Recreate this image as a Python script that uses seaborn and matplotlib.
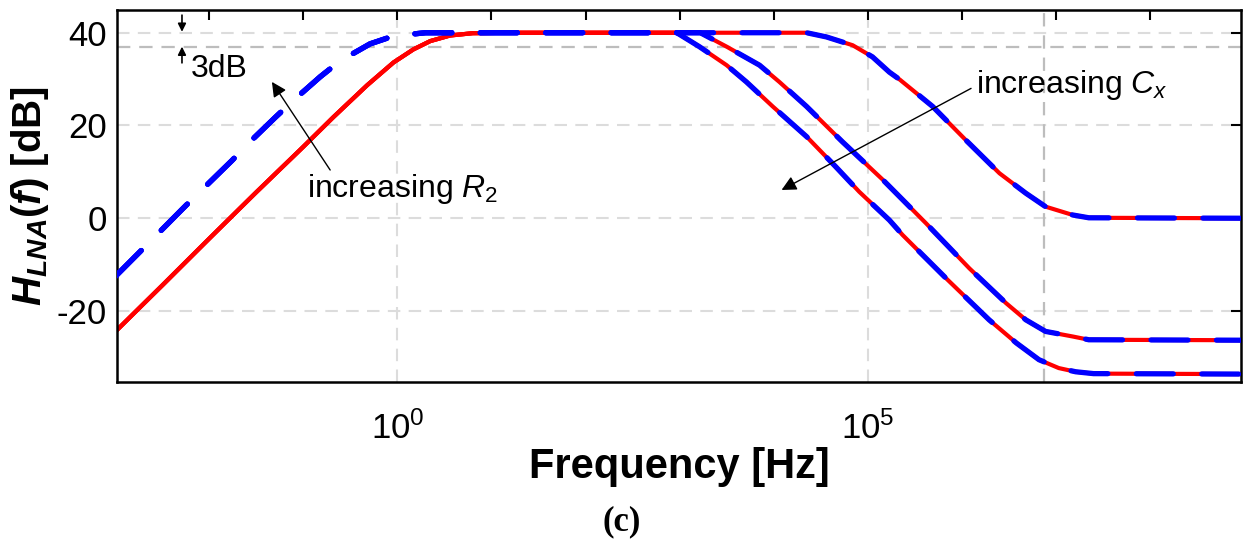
import numpy as np
import pandas as pd
import matplotlib
matplotlib.use("Agg")
import matplotlib.pyplot as plt
import seaborn as sns
from matplotlib.ticker import FixedLocator, FuncFormatter, NullLocator

# ---------------- data ----------------
# low-frequency (high-pass) part, two R2 values; log10(f) and dB
r2_small_logf = [-3.0, -2.5, -2.0, -1.5, -1.0, -0.68, -0.32, -0.04, 0.17, 0.35, 0.56, 0.8, 1.2]
r2_small_db = [-24.5, -14.5, -4.4, 5.6, 15.4, 21.8, 28.7, 33.6, 36.4, 38.2, 39.4, 39.9, 40.0]
r2_large_logf = [-3.0, -2.7, -2.24, -1.76, -1.56, -1.30, -1.10, -0.82, -0.61, -0.29, -0.04, 0.3]
r2_large_db = [-12.6, -6.5, 2.9, 12.4, 16.6, 21.7, 25.5, 30.5, 33.9, 37.6, 39.3, 40.0]

# high-frequency (low-pass with floor) part, three Cx values
cx1_logf = [2.97, 3.21, 3.50, 3.71, 3.99, 4.35, 4.66, 4.91, 5.23, 5.37, 5.83, 6.29, 6.58, 6.82, 7.03, 7.21, 7.4, 9.0]
cx1_db = [40.0, 37.0, 33.0, 29.4, 24.1, 17.6, 11.1, 5.7, -0.4, -3.6, -12.9, -21.9, -26.9, -30.5, -32.3, -33.1, -33.5, -33.6]
cx2_logf = [3.22, 3.50, 3.85, 4.06, 4.35, 4.73, 5.16, 5.62, 6.08, 6.47, 6.68, 6.89, 7.18, 7.35, 9.0]
cx2_db = [40.0, 37.0, 33.0, 29.4, 24.1, 16.5, 8.3, -1.1, -10.8, -18.3, -21.9, -24.4, -25.5, -26.2, -26.3]
cx3_logf = [4.35, 4.56, 4.84, 5.05, 5.23, 5.34, 5.69, 6.04, 6.40, 6.68, 6.89, 7.18, 7.35, 9.0]
cx3_db = [40.0, 39.1, 37.3, 34.8, 31.5, 29.9, 24.1, 16.9, 9.7, 5.4, 2.5, 0.7, 0.1, 0.0]

y_ticks = [-20, 0, 20, 40]
x_tick_decades = list(range(-3, 10))
x_label_decades = [0, 5]
grid_x_decades = [0, 5]
ref_db = 37            # -3 dB level
ref_x_decade = 6.87    # vertical reference line

# ---------------- build long-form table ----------------
rows = []
lows = {"small": (r2_small_logf, r2_small_db), "large": (r2_large_logf, r2_large_db)}
highs = {"cx1": (cx1_logf, cx1_db), "cx2": (cx2_logf, cx2_db), "cx3": (cx3_logf, cx3_db)}
for r2, (llf, ldb) in lows.items():
    for cx, (hlf, hdb) in highs.items():
        lf = list(llf) + list(hlf)
        db = list(ldb) + list(hdb)
        for i, (a, b) in enumerate(zip(lf, db)):
            rows.append(dict(r2=r2, cx=cx, order=i, freq=10.0 ** a, db=b))
df = pd.DataFrame(rows)

# ---------------- style ----------------
sns.set_theme(style="white")
plt.rcParams["font.family"] = ["Liberation Sans", "DejaVu Sans"]
for k in ["text.color", "axes.labelcolor", "xtick.color", "ytick.color"]:
    plt.rcParams[k] = "black"
plt.rcParams["mathtext.fontset"] = "custom"
plt.rcParams["mathtext.rm"] = "Liberation Sans"
plt.rcParams["mathtext.it"] = "Liberation Sans:italic"
plt.rcParams["mathtext.bf"] = "Liberation Sans:bold"
has_bfit = True
try:
    plt.rcParams["mathtext.bfit"] = "Liberation Sans:italic:bold"
except KeyError:
    has_bfit = False

fig = plt.figure(figsize=(12.43, 5.56), dpi=100)
ax = fig.add_axes([0.0941, 0.313, 0.9045, 0.669])
ax.set_xscale("log")

# grid & reference lines
for d in grid_x_decades:
    ax.axvline(10.0 ** d, color="#dcdcdc", lw=1.5, dashes=(6, 4), zorder=0)
for yv in y_ticks:
    ax.axhline(yv, color="#dcdcdc", lw=1.5, dashes=(6, 4), zorder=0)
ax.axhline(ref_db, color="#bdbdbd", lw=1.6, dashes=(6, 4), zorder=0.5)
ax.axvline(10.0 ** ref_x_decade, color="#bdbdbd", lw=1.6, dashes=(6, 4), zorder=0.5)

# red solid curves (small R2)
for cx in highs:
    sub = df[(df.r2 == "small") & (df.cx == cx)]
    sns.lineplot(data=sub, x="freq", y="db", color="#ff0000", lw=3.0,
                 estimator=None, sort=False, ax=ax, legend=False)
# blue dashed curves (large R2), drawn on top
for cx in highs:
    sub = df[(df.r2 == "large") & (df.cx == cx)]
    sns.lineplot(data=sub, x="freq", y="db", color="#0000ff", lw=3.8,
                 estimator=None, sort=False, ax=ax, legend=False)
    ln = ax.lines[-1]
    ln.set_dashes((7, 5.4))
    ln.set_dash_capstyle("round")
    ln.set_zorder(3)

ax.set_xlim(10.0 ** -2.98, 10.0 ** 8.97)
ax.set_ylim(-35.3, 44.9)

ax.xaxis.set_major_locator(FixedLocator([10.0 ** d for d in x_tick_decades]))
ax.xaxis.set_minor_locator(NullLocator())
ax.xaxis.set_major_formatter(FuncFormatter(
    lambda v, p: (r"$10^{%d}$" % int(round(np.log10(v)))) if int(round(np.log10(v))) in x_label_decades else ""))
ax.set_yticks(y_ticks)
ax.set_yticklabels([str(v) for v in y_ticks])

ax.tick_params(axis="both", which="major", direction="in", length=7.2, width=1.5,
               top=True, right=True, labelsize=25, colors="black")
ax.tick_params(axis="x", pad=21)
ax.tick_params(axis="y", pad=7)
for s in ax.spines.values():
    s.set_linewidth(1.8)
    s.set_color("black")

ax.set_xlabel("Frequency [Hz]", fontsize=30, fontweight="bold", labelpad=1)
if has_bfit:
    ylab = r"$\mathbfit{H}_{\mathbfit{LNA}}$(" + r"$\mathbfit{f}$" + ") [dB]"
else:
    ylab = r"$\mathbf{H}_{\mathbf{LNA}}$(" + r"$\mathbf{f}$" + ") [dB]"
ax.set_ylabel(ylab, fontsize=29, fontweight="bold", labelpad=4)

# annotations
ax.annotate("", xy=(10 ** -2.289, 40.2), xytext=(10 ** -2.289, 43.8),
            arrowprops=dict(arrowstyle="-|>", color="black", lw=1.2, mutation_scale=12,
                            shrinkA=0, shrinkB=0))
ax.annotate("", xy=(10 ** -2.289, 37.0), xytext=(10 ** -2.289, 33.5),
            arrowprops=dict(arrowstyle="-|>", color="black", lw=1.2, mutation_scale=12,
                            shrinkA=0, shrinkB=0))
ax.text(10 ** -2.20, 30.4, "3dB", fontsize=23, ha="left", va="baseline")

ax.annotate("", xy=(10 ** -1.333, 29.4), xytext=(10 ** -0.714, 10.4),
            arrowprops=dict(arrowstyle="-|>", color="black", lw=1.0, mutation_scale=22,
                            shrinkA=0, shrinkB=0), zorder=5)
ax.text(10 ** -0.959, 4.6, r"increasing $R_2$", fontsize=23, ha="left", va="baseline")

ax.annotate("", xy=(10 ** 4.084, 6.1), xytext=(10 ** 6.098, 28.0),
            arrowprops=dict(arrowstyle="-|>", color="black", lw=1.0, mutation_scale=22,
                            shrinkA=0, shrinkB=0), zorder=5)
ax.text(10 ** 6.154, 26.9, r"increasing $C_x$", fontsize=23, ha="left", va="baseline")

fig.text(0.5, 1 - 522 / 556, "(c)", ha="center", va="center", fontsize=25,
         family=["Liberation Serif", "DejaVu Serif"], fontweight="bold")

fig.savefig("out.png", dpi=100)
